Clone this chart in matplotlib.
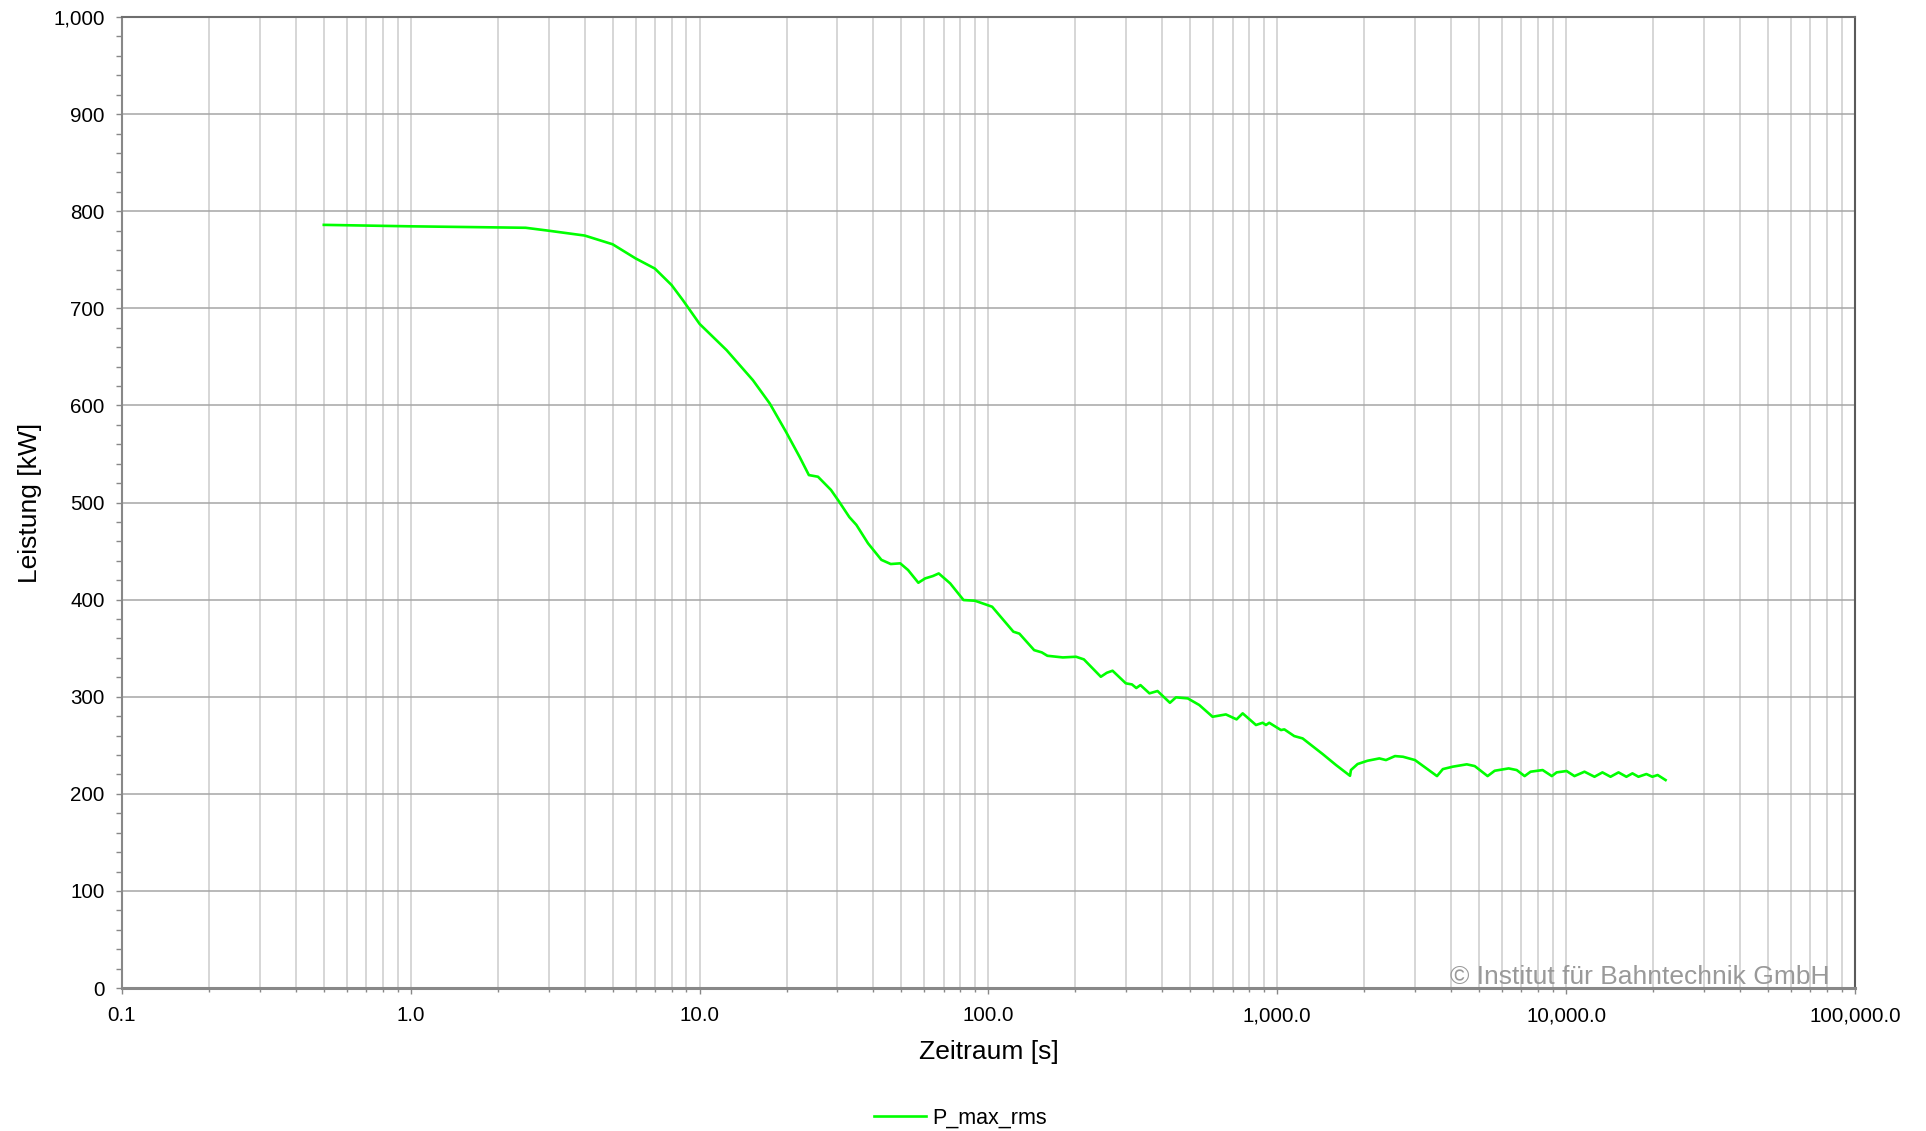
import matplotlib
matplotlib.use("Agg")
import matplotlib.pyplot as plt
from matplotlib.ticker import FixedLocator, LogLocator, MultipleLocator, NullFormatter

plt.rcParams['font.family'] = ['Liberation Sans', 'DejaVu Sans']

# Zeitraum [s] und Leistung [kW]
t_s = [0.5, 1.0, 2.5, 3.0, 4.0, 5.0, 6.0, 7.0, 8.0, 8.75, 10.0, 12.4, 15.3, 17.5,
       19.9, 22.2, 23.9, 25.7, 28.5, 30.4, 33.0, 34.9, 38.3, 42.6, 45.9, 49.5,
       52.7, 57.2, 60.4, 64.2, 67.3, 73.7, 82.0, 89.8, 96.9, 103, 122, 128,
       144, 153, 160, 181, 201, 214, 245, 257, 269, 299, 314, 325, 336, 361,
       385, 425, 446, 490, 537, 597, 664, 723, 759, 844, 890, 914, 938, 1030,
       1058, 1145, 1224, 1436, 1597, 1786, 1799, 1897, 2054, 2257, 2379, 2556,
       2725, 2998, 3573, 3744, 4055, 4530, 4827, 5348, 5661, 6328, 6745, 7185,
       7534, 8294, 8926, 9274, 10040, 10690, 11580, 12540, 13360, 14250, 15190,
       16170, 16970, 17800, 18970, 19890, 20750, 22100]
p_kw = [786, 784.5, 783, 780, 775, 766, 751.5, 741, 724, 708.5, 684, 657, 626, 602,
        573, 547, 528.3, 526.6, 513, 501, 485, 477, 458, 441, 436.7, 437.4,
        430.5, 417.4, 421.9, 424.3, 427, 416.8, 399.6, 398.9, 395.5, 392.7, 367, 365,
        348, 345.7, 342.2, 340.5, 341.2, 338.5, 320.6, 324.7, 326.8, 313.8, 312.7, 309, 312, 303.5,
        305.9, 293.8, 299.4, 298.3, 291.5, 279.4, 281.8, 276.7, 282.9, 270.9, 273.2, 270.9, 273.2, 265.7,
        266.4, 259.5, 257.1, 241, 229.7, 218.6, 224.5, 230.7, 234.1, 236.5, 234.8, 238.9,
        238.2, 234.8, 218.3, 225.5, 228, 230.4, 228.6, 218.3, 223.8, 226.2, 224.5, 218.3,
        222.8, 224.5, 218.3, 222.1, 223.5, 218.3, 222.8, 217.6, 222.1, 217.6, 222.1,
        217.6, 221.1, 217.6, 220.4, 217.6, 219.4, 214.2]

x_ticks = [0.1, 1, 10, 100, 1000, 10000, 100000]
x_labels = ['0.1', '1.0', '10.0', '100.0', '1,000.0', '10,000.0', '100,000.0']
y_ticks = [0, 100, 200, 300, 400, 500, 600, 700, 800, 900, 1000]
y_labels = ['0', '100', '200', '300', '400', '500', '600', '700', '800', '900', '1,000']

fig = plt.figure(figsize=(19.26, 11.31), dpi=100)
ax = fig.add_axes([0.0633, 0.1264, 0.8998, 0.8585])

ax.plot(t_s, p_kw, color='#00ff00', lw=1.9, label='P_max_rms', zorder=3)

ax.set_xscale('log')
ax.set_xlim(0.1, 100000)
ax.set_ylim(0, 1000)
ax.xaxis.set_major_locator(FixedLocator(x_ticks))
ax.set_xticklabels(x_labels)
ax.xaxis.set_minor_locator(LogLocator(base=10, subs=range(2, 10), numticks=20))
ax.xaxis.set_minor_formatter(NullFormatter())
ax.set_yticks(y_ticks)
ax.set_yticklabels(y_labels)
ax.yaxis.set_minor_locator(MultipleLocator(20))

ax.grid(which='both', axis='x', color='#cccccc', lw=1.1)
ax.grid(which='major', axis='y', color='#a6a6a6', lw=1.1)
ax.set_axisbelow(True)

ax.tick_params(axis='both', which='both', direction='out', color='#888888',
               labelsize=14.8, labelcolor='black')
ax.tick_params(axis='x', which='major', length=4.5, width=1, pad=8.5)
ax.tick_params(axis='x', which='minor', length=3, width=1)
ax.tick_params(axis='y', which='major', length=4.5, width=1, pad=8)
ax.tick_params(axis='y', which='minor', length=4, width=1)

ax.spines['left'].set_color('#888888')
ax.spines['left'].set_linewidth(1.5)
ax.spines['bottom'].set_color('#888888')
ax.spines['bottom'].set_linewidth(2.2)
ax.spines['top'].set_color('#6e6e6e')
ax.spines['top'].set_linewidth(1.5)
ax.spines['right'].set_color('#5a5a5a')
ax.spines['right'].set_linewidth(1.5)

ax.set_xlabel('Zeitraum [s]', fontsize=19)
ax.xaxis.set_label_coords(0.5, -0.053)
ax.set_ylabel('Leistung [kW]', fontsize=19)
ax.yaxis.set_label_coords(-0.046, 0.5)

fig.text(1829 / 1926, 1 - 984 / 1131, '\u00a9 Institut f\u00fcr Bahntechnik GmbH',
         ha='right', va='baseline', fontsize=19, color='#999999')

ax.legend(loc='center left', bbox_to_anchor=(874 / 1926, 1 - 1118 / 1131),
          bbox_transform=fig.transFigure, frameon=False, fontsize=15.5,
          handlelength=2.4, handletextpad=0.3, borderpad=0, borderaxespad=0)

fig.savefig('out.png', dpi=100, facecolor='white')
